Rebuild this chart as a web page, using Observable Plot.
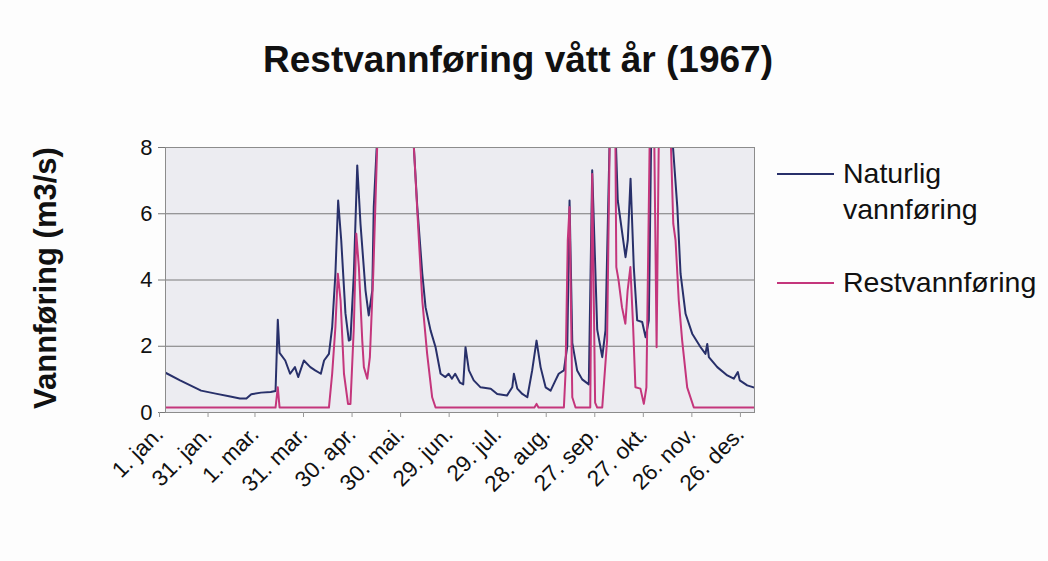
<!DOCTYPE html>
<html><head><meta charset="utf-8">
<script src="https://cdn.jsdelivr.net/npm/d3@7"></script>
<script src="https://cdn.jsdelivr.net/npm/@observablehq/plot@0.6"></script>
<style>
body{margin:0;background:#fdfdfd;font-family:"Liberation Sans",Arial,sans-serif;}
#wrap{position:relative;width:1048px;height:561px;overflow:hidden;}
#wrap svg{position:absolute;left:0;top:0;}
#title{position:absolute;left:0;width:1036px;top:39px;text-align:center;font-weight:bold;font-size:37px;color:#111;}
#ylab{position:absolute;left:46px;top:278px;transform:translate(-50%,-50%) rotate(-90deg);white-space:nowrap;font-weight:bold;font-size:31px;color:#111;}
.leg{position:absolute;font-size:28.5px;color:#111;line-height:36px;}
.sw{position:absolute;height:0;border-top:2px solid;}
</style></head>
<body><div id="wrap"></div>
<script>
const natDays = [0,9,22,31,40,46,50,53,59,65,68,69.4,70.5,74,77,80,82,85.5,89.5,92.5,96,98,101,103,105,106.7,108.6,111.2,113.3,114.3,116.4,118.5,120.5,123.6,125.6,127.8,128.7,130.4,132,142,153.5,155.6,158.7,160.7,163.8,166.9,170,173,175,177,179,182,184,185.4,187.5,190.5,194.7,201,205,211,214.3,215.3,217.4,220.5,223.6,226.6,229.3,231.8,234.9,238,241,243,246.2,248.3,249.7,251.4,254.4,257.5,261.6,263.7,266.8,269.9,271.9,274.6,276.5,278.1,279.5,282.3,284.3,285.7,287.4,289.4,291.5,294.6,296.7,298.7,300.2,307,313.5,316.3,318.3,321.4,325.5,330.7,333.7,334.8,335.8,341,347.2,351.2,353.7,354.9,359.5,364];
const natVals = [1.2,0.97,0.66,0.57,0.48,0.42,0.42,0.55,0.6,0.62,0.65,2.8,1.8,1.57,1.17,1.37,1.07,1.57,1.37,1.27,1.17,1.57,1.77,2.58,4.19,6.4,5.2,3.0,2.17,2.2,4.19,7.46,5.7,3.69,2.93,3.69,6.2,7.9,9,14,8,6.2,4.19,3.18,2.48,1.97,1.17,1.07,1.17,1.02,1.17,0.9,0.85,1.97,1.27,0.97,0.76,0.72,0.56,0.51,0.76,1.17,0.72,0.56,0.46,1.27,2.17,1.37,0.76,0.66,0.97,1.17,1.27,2.0,6.4,2.1,1.27,1.0,0.85,7.31,2.5,1.67,2.48,8.5,10,8.5,6.4,5.4,4.69,5.2,7.06,4.39,2.78,2.73,2.27,2.78,8.5,12,8.1,6.2,4.19,2.98,2.38,1.97,1.77,2.07,1.67,1.37,1.12,1.02,1.22,0.97,0.82,0.75];
const restDays = [0,68,69.4,70.5,101,103,105,106.5,108.2,110.3,112.8,114.3,116.4,117.9,119.5,121.6,122.6,124.7,126.3,128.4,130.8,132,142,153.5,156.6,158.7,161.7,164.8,166.9,228,229.3,230.5,246.2,247.2,248.6,249.7,251.4,253.4,262.5,263.7,265.5,266.8,269.9,272.9,274.6,276.5,278,278.6,280,282.1,284.2,285.6,287.3,289,290.4,293.5,295.6,297.2,299.3,301,302,303.5,304.9,307,312.1,313.8,315.2,317.2,319.3,322.4,326.5,364];
const restVals = [0.15,0.15,0.76,0.15,0.15,1.17,2.58,4.19,3.38,1.17,0.26,0.26,2.58,5.4,4.39,2.17,1.37,1.02,1.67,4.19,8,10,14,8,5.2,3.38,1.77,0.46,0.15,0.15,0.26,0.15,0.15,1.17,5.2,6.2,0.46,0.15,0.15,7.2,0.3,0.15,0.15,2.17,8.5,10,8.5,4.39,3.99,3.18,2.68,3.69,4.39,2.58,0.76,0.72,0.26,0.76,8.5,10,8.5,1.97,8.5,12,8.5,5.7,5.2,3.38,2.17,0.76,0.15,0.15];
const tickDays = [0,30,59,89,119,149,179,209,239,269,299,329,359];
const tickLabels = ["1. jan.","31. jan.","1. mar.","31. mar.","30. apr.","30. mai.","29. jun.","29. jul.","28. aug.","27. sep.","27. okt.","26. nov.","26. des."];
const yTicks = [0,2,4,6,8];
const gridVals = [2,4,6];
const seriesNames = ["Naturlig vannføring","Restvannføring"];
const colors = ["#28306a","#c4367c"];

const nat = natDays.map((d,i)=>({day:d, value:natVals[i]}));
const rest = restDays.map((d,i)=>({day:d, value:restVals[i]}));
const labelOf = new Map(tickDays.map((d,i)=>[d,tickLabels[i]]));

const chart = Plot.plot({
  width:1048, height:561,
  marginLeft:165, marginRight:294, marginTop:147, marginBottom:149,
  style:{background:"transparent", fontFamily:"'Liberation Sans', Arial, sans-serif", color:"#111"},
  x:{domain:[0,364]},
  y:{domain:[0,8]},
  marks:[
    Plot.frame({fill:"#ececf1", stroke:null}),
    Plot.ruleY(gridVals, {stroke:"#7a7a7a", strokeWidth:1}),
    Plot.line(nat, {x:"day", y:"value", stroke:colors[0], strokeWidth:2, clip:true}),
    Plot.line(rest, {x:"day", y:"value", stroke:colors[1], strokeWidth:2, clip:true}),
    Plot.frame({stroke:"#8c8c8c"}),
    Plot.axisY(yTicks, {tickSize:7, tickPadding:6, fontSize:22, label:null, stroke:"#777"}),
    Plot.axisX(tickDays, {tickRotate:-45, tickFormat:d=>labelOf.get(d), fontSize:22.5, tickSize:5, tickPadding:13, dx:-6, label:null, stroke:"#999"})
  ]
});
const wrap = document.getElementById("wrap");
wrap.appendChild(chart);

function addDiv(cls, id, text, css){
  const el = document.createElement("div");
  if (cls) el.className = cls;
  if (id) el.id = id;
  if (text) el.textContent = text;
  Object.assign(el.style, css||{});
  wrap.appendChild(el);
  return el;
}
addDiv(null, "title", "Restvannføring vått år (1967)");
addDiv(null, "ylab", "Vannføring (m3/s)");
// legend
addDiv("sw", null, "", {left:"777px", top:"173px", width:"57px", borderColor:colors[0]});
const l1 = addDiv("leg", null, "", {left:"843px", top:"155px"});
l1.innerHTML = "Naturlig<br>vannføring";
addDiv("sw", null, "", {left:"777px", top:"282px", width:"57px", borderColor:colors[1]});
addDiv("leg", null, seriesNames[1], {left:"843px", top:"264px"});
</script>
</body></html>
